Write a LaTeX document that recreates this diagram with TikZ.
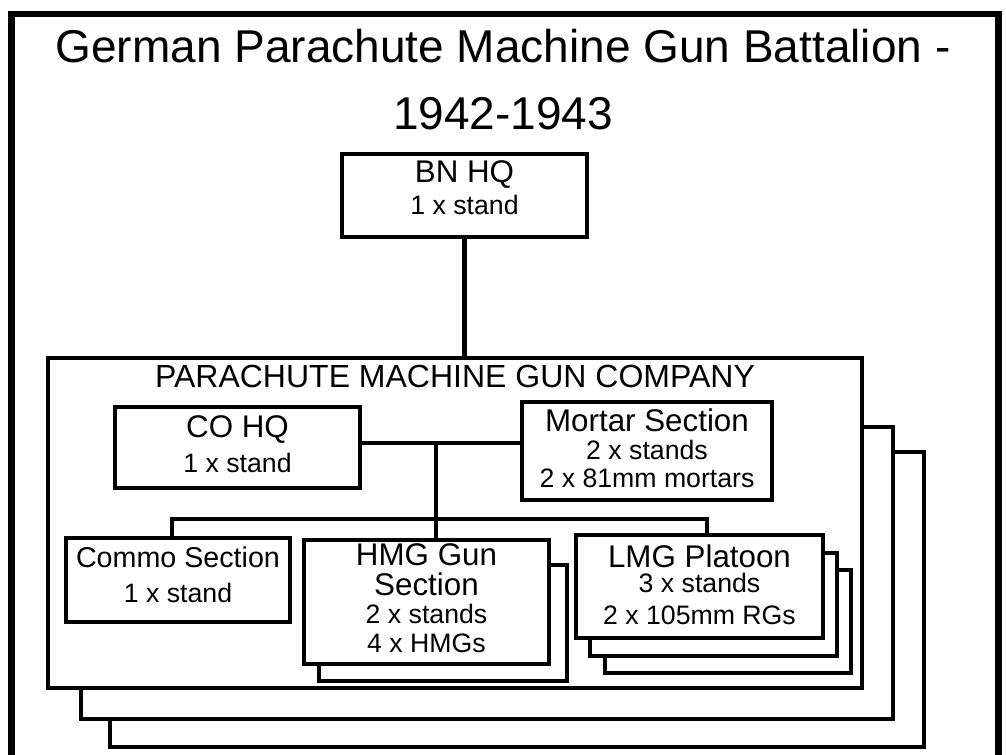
\documentclass[tikz,border=0pt]{standalone}
\usepackage{fontspec}
\setmainfont{Liberation Sans}
\usepackage{tikz}
\usetikzlibrary{positioning}

\newcommand{\hd}{\fontsize{23.5}{24}\selectfont}
\newcommand{\dt}{\fontsize{20}{21}\selectfont}

\begin{document}
\begin{tikzpicture}[x=0.75pt, y=-0.75pt, line width=3.4pt,
  every node/.style={font=\dt, align=center, inner sep=0pt},
  unit/.style={draw, fill=white, line width=3.4pt}]
  \useasboundingbox (0,0) rectangle (1006,755);
  % frame, open at the bottom
  \draw[line width=5.2pt] (11.5,755) -- (11.5,14) -- (998.5,14) -- (998.5,755);
  \node[anchor=base, font=\fontsize{34.5}{40}\selectfont] (title1) at (503,63)
    {German Parachute Machine Gun Battalion -};
  \node[anchor=base, font=\fontsize{34.5}{40}\selectfont] (title2) at (503,130)
    {1942-1943};
  % battalion hq
  \node[unit, minimum width=183.75pt, minimum height=62.25pt] (bnhq)
    at (464.5,195.5) {};
  \node (bnhqt) at (464.5,188) {{\hd BN HQ}\\[3pt]1 x stand};
  % company, three deep
  \foreach \xa/\ya/\xb/\yb in {110/452/924/747, 81/427/893/719}{
    \draw[unit] (\xa,\ya) rectangle (\xb,\yb);}
  \node[unit, minimum width=610.5pt, minimum height=247.5pt] (company)
    at (455,523) {};
  \node[font=\fontsize{24}{26}\selectfont] (coname) at (455,376)
    {PARACHUTE MACHINE GUN COMPANY};
  \draw (bnhq.south) -- (bnhq.south |- company.north);
  % company hq and mortars
  \node[unit, minimum width=183.75pt, minimum height=60.75pt] (cohq)
    at (237.5,447.5) {};
  \node (cohqt) at (237.5,444) {{\hd CO HQ}\\[5pt]1 x stand};
  \node[unit, minimum width=187.5pt, minimum height=73.5pt] (mortar)
    at (647,451) {};
  \node (mortart) at (647,448)
    {{\hd Mortar Section}\\2 x stands\\2 x 81mm mortars};
  % sections
  \node[unit, minimum width=168pt, minimum height=63pt] (commo)
    at (178,580) {};
  \node (commot) at (178,575)
    {{\fontsize{21.5}{24}\selectfont Commo Section}\\[5pt]1 x stand};
  \draw[unit] (319,565) rectangle (567,681);
  \node[unit, minimum width=183.75pt, minimum height=93pt] (hmg)
    at (426.5,602) {};
  \node (hmgt) at (426.5,598)
    {{\hd HMG Gun}\\[1.5pt]{\hd Section}\\2 x stands\\[0.5pt]4 x HMGs};
  \foreach \xa/\ya/\xb/\yb in {605/570/851/673, 590/553/837/656}{
    \draw[unit] (\xa,\ya) rectangle (\xb,\yb);}
  \node[unit, minimum width=185.25pt, minimum height=77.25pt] (lmg)
    at (699.5,586.5) {};
  \node (lmgt) at (699.5,585)
    {{\hd LMG Platoon}\\[-2pt]3 x stands\\[3pt]2 x 105mm RGs};
  % links
  \coordinate (hub) at (436,443);
  \coordinate (bar) at (436,519);
  \coordinate (drop1) at (172,519);
  \coordinate (drop3) at (707,519);
  \draw (cohq.east |- hub) -- (hub -| mortar.west);
  \draw (hub) -- (hub |- hmg.north);
  \draw (drop1 |- commo.north) -- (drop1) -- (drop3) -- (drop3 |- lmg.north);
\end{tikzpicture}
\end{document}
